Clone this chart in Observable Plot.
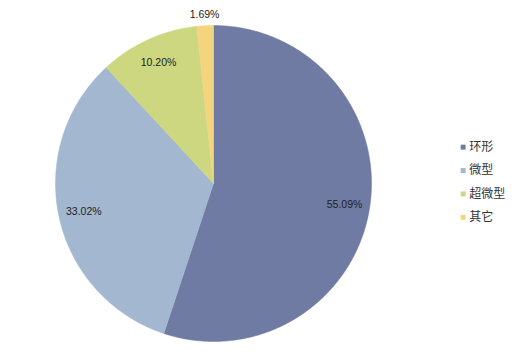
<!DOCTYPE html>
<html>
<head>
<meta charset="utf-8">
<script src="https://cdn.jsdelivr.net/npm/d3@7"></script>
<script src="https://cdn.jsdelivr.net/npm/@observablehq/plot@0.6"></script>
<style>
  html, body { margin: 0; padding: 0; background: #fff; }
  #chart svg { display: block; }
</style>
</head>
<body>
<div id="chart"></div>
<script>
const categories = ["环形", "微型", "超微型", "其它"];
const shares = [55.09, 33.02, 10.20, 1.69];
const labels = ["55.09%", "33.02%", "10.20%", "1.69%"];
const colors = ["#6F7BA2", "#A3B8D0", "#CDD780", "#F4D47C"];

const data = categories.map((c, i) => ({category: c, value: shares[i], label: labels[i]}));

// pie layout starting at 12 o'clock, clockwise, in data order
const pie = d3.pie().value(d => d.value).sort(null)(data);

// polygons for slices in unit-circle coordinates (y up)
const polys = [];
pie.forEach(p => {
  const n = Math.max(2, Math.ceil((p.endAngle - p.startAngle) / 0.01));
  polys.push({category: p.data.category, x: 0, y: 0});
  for (let k = 0; k <= n; k++) {
    const a = p.startAngle + (p.endAngle - p.startAngle) * k / n;
    polys.push({category: p.data.category, x: Math.sin(a), y: Math.cos(a)});
  }
  polys.push({category: p.data.category, x: 0, y: 0});
});

// label positions
const labelPts = pie.map(p => {
  const a = (p.startAngle + p.endAngle) / 2;
  const r = p.data.value < 5 ? 1.07 : 0.84;
  return {label: p.data.label, x: Math.sin(a) * r, y: Math.cos(a) * r};
});

// legend positions (in the same coordinate system, right of the pie)
const legendPts = categories.map((c, i) => ({category: c, x: 1.58, y: 0.23 - i * 0.148}));

const chart = Plot.plot({
  width: 519,
  height: 354,
  marginLeft: 55,
  marginRight: 148,
  marginTop: 25,
  marginBottom: 13,
  x: {domain: [-1, 1], axis: null},
  y: {domain: [-1, 1], axis: null},
  color: {domain: categories, range: colors},
  style: {fontFamily: "'Liberation Sans', Arial, 'Noto Sans CJK SC', sans-serif", background: "#fff"},
  marks: [
    Plot.line(polys, {x: "x", y: "y", z: "category", fill: "category", stroke: "category", strokeWidth: 0.5, curve: "linear-closed"}),
    Plot.text(labelPts, {x: "x", y: "y", text: "label", fontSize: 10.5, fill: "#222"}),
    Plot.dot(legendPts, {x: "x", y: "y", symbol: "square", r: 2.8, fill: "category", stroke: null}),
    Plot.text(legendPts, {x: "x", y: "y", text: "category", dx: 6, textAnchor: "start", fontSize: 12, fill: "#333", fontFamily: "'Noto Sans CJK SC', sans-serif"})
  ]
});
document.getElementById("chart").appendChild(chart);
</script>
</body>
</html>
